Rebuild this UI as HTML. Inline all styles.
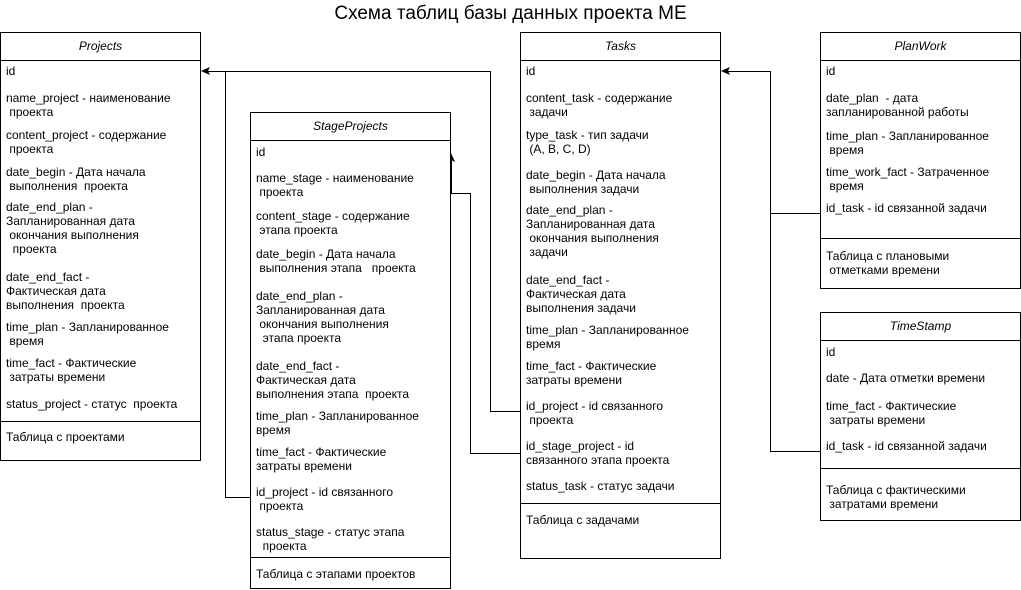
<!DOCTYPE html>
<html><head><meta charset="utf-8"><style>
body{margin:0;width:1021px;height:590px;background:#fff;position:relative;overflow:hidden;font-family:"Liberation Sans",sans-serif;font-size:12px;color:#000}
.b{position:absolute;border:1px solid #000;box-sizing:border-box;background:#fff}
.h{position:absolute;left:0;right:0;top:0;height:27px;border-bottom:1px solid #000;text-align:center;line-height:26px;font-style:italic}
.s{position:absolute;left:0;right:0;border-top:1px solid #000}
.t{position:absolute;white-space:pre;line-height:14px}
.l{position:absolute;background:#000}
</style></head><body>
<div class="t" style="left:0;width:1021px;text-align:center;top:3px;font-size:19px;line-height:22px">Схема таблиц базы данных проекта ME</div>

<!-- connectors -->
<div class="l" style="left:205px;top:71px;width:286px;height:1px"></div>
<div class="l" style="left:490px;top:71px;width:1px;height:341px"></div>
<div class="l" style="left:490px;top:411px;width:30px;height:1px"></div>
<div class="l" style="left:225px;top:71px;width:1px;height:427px"></div>
<div class="l" style="left:225px;top:497px;width:25px;height:1px"></div>
<svg style="position:absolute;left:0;top:0" width="1021" height="590"><polygon points="201,71 210,67 208,71 210,75"/><polygon points="451,153 447,162 451,160 455,162"/><polygon points="721,71 730,67 728,71 730,75"/></svg>
<div class="l" style="left:451px;top:158px;width:1px;height:36px"></div>
<div class="l" style="left:451px;top:193px;width:20px;height:1px"></div>
<div class="l" style="left:470px;top:193px;width:1px;height:261px"></div>
<div class="l" style="left:470px;top:453px;width:50px;height:1px"></div>
<div class="l" style="left:725px;top:71px;width:46px;height:1px"></div>
<div class="l" style="left:770px;top:71px;width:1px;height:381px"></div>
<div class="l" style="left:770px;top:213px;width:50px;height:1px"></div>
<div class="l" style="left:770px;top:451px;width:50px;height:1px"></div>

<!-- Projects -->
<div class="b" style="left:0;top:32px;width:201px;height:429px">
<div class="h">Projects</div><div class="s" style="top:388px"></div></div>
<div class="t" style="left:6px;top:64px">id</div>
<div class="t" style="left:6px;top:91px">name_project - наименование
 проекта</div>
<div class="t" style="left:6px;top:128px">content_project - содержание
 проекта</div>
<div class="t" style="left:6px;top:165px">date_begin - Дата начала
 выполнения  проекта</div>
<div class="t" style="left:6px;top:200px">date_end_plan -
Запланированная дата
 окончания выполнения
  проекта</div>
<div class="t" style="left:6px;top:270px">date_end_fact -
Фактическая дата
выполнения  проекта</div>
<div class="t" style="left:6px;top:320px">time_plan - Запланированное
 время</div>
<div class="t" style="left:6px;top:356px">time_fact - Фактические
 затраты времени</div>
<div class="t" style="left:6px;top:397px">status_project - статус  проекта</div>
<div class="t" style="left:6px;top:430px">Таблица с проектами</div>

<!-- StageProjects -->
<div class="b" style="left:250px;top:112px;width:201px;height:477px">
<div class="h">StageProjects</div><div class="s" style="top:444px"></div></div>
<div class="t" style="left:256px;top:145px">id</div>
<div class="t" style="left:256px;top:171px">name_stage - наименование
 проекта</div>
<div class="t" style="left:256px;top:209px">content_stage - содержание
 этапа проекта</div>
<div class="t" style="left:256px;top:247px">date_begin - Дата начала
 выполнения этапа   проекта</div>
<div class="t" style="left:256px;top:289px">date_end_plan -
Запланированная дата
 окончания выполнения
  этапа проекта</div>
<div class="t" style="left:256px;top:359px">date_end_fact -
Фактическая дата
выполнения этапа  проекта</div>
<div class="t" style="left:256px;top:409px">time_plan - Запланированное
время</div>
<div class="t" style="left:256px;top:445px">time_fact - Фактические
затраты времени</div>
<div class="t" style="left:256px;top:485px">id_project - id связанного
 проекта</div>
<div class="t" style="left:256px;top:525px">status_stage - статус этапа
  проекта</div>
<div class="t" style="left:256px;top:567px">Таблица с этапами проектов</div>

<!-- Tasks -->
<div class="b" style="left:520px;top:32px;width:201px;height:527px">
<div class="h">Tasks</div><div class="s" style="top:470px"></div></div>
<div class="t" style="left:526px;top:64px">id</div>
<div class="t" style="left:526px;top:91px">content_task - содержание
 задачи</div>
<div class="t" style="left:526px;top:128px">type_task - тип задачи
 (A, B, C, D)</div>
<div class="t" style="left:526px;top:168px">date_begin - Дата начала
 выполнения задачи</div>
<div class="t" style="left:526px;top:203px">date_end_plan -
Запланированная дата
 окончания выполнения
 задачи</div>
<div class="t" style="left:526px;top:273px">date_end_fact -
Фактическая дата
выполнения задачи</div>
<div class="t" style="left:526px;top:323px">time_plan - Запланированное
время</div>
<div class="t" style="left:526px;top:359px">time_fact - Фактические
затраты времени</div>
<div class="t" style="left:526px;top:399px">id_project - id связанного
 проекта</div>
<div class="t" style="left:526px;top:439px">id_stage_project - id
связанного этапа проекта</div>
<div class="t" style="left:526px;top:479px">status_task - статус задачи</div>
<div class="t" style="left:526px;top:513px">Таблица с задачами</div>

<!-- PlanWork -->
<div class="b" style="left:820px;top:32px;width:201px;height:257px">
<div class="h">PlanWork</div><div class="s" style="top:205px"></div></div>
<div class="t" style="left:826px;top:64px">id</div>
<div class="t" style="left:826px;top:91px">date_plan  - дата
запланированной работы</div>
<div class="t" style="left:826px;top:129px">time_plan - Запланированное
 время</div>
<div class="t" style="left:826px;top:165px">time_work_fact - Затраченное
 время</div>
<div class="t" style="left:826px;top:201px">id_task - id связанной задачи</div>
<div class="t" style="left:826px;top:249px">Таблица с плановыми
 отметками времени</div>

<!-- TimeStamp -->
<div class="b" style="left:820px;top:312px;width:201px;height:209px">
<div class="h">TimeStamp</div><div class="s" style="top:155px"></div></div>
<div class="t" style="left:826px;top:345px">id</div>
<div class="t" style="left:826px;top:371px">date - Дата отметки времени</div>
<div class="t" style="left:826px;top:399px">time_fact - Фактические
 затраты времени</div>
<div class="t" style="left:826px;top:439px">id_task - id связанной задачи</div>
<div class="t" style="left:826px;top:483px">Таблица с фактическими
 затратами времени</div>
</body></html>
